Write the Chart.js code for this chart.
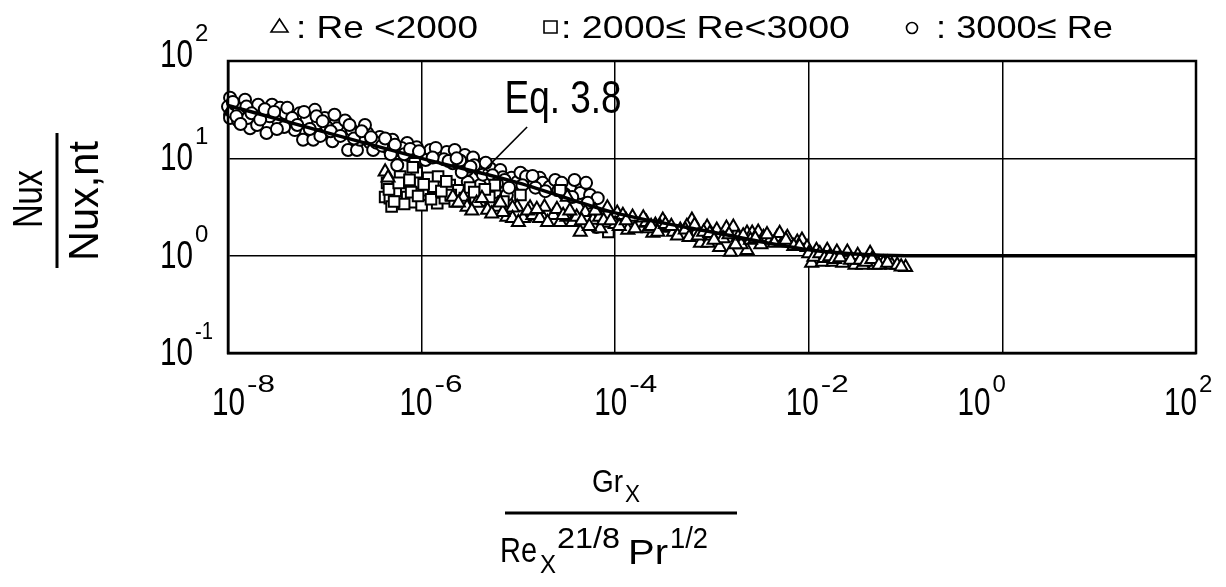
<!DOCTYPE html>
<html>
<head>
<meta charset="utf-8">
<script src="https://cdn.jsdelivr.net/npm/chart.js@4.4.1/dist/chart.umd.min.js"></script>
<style>
  html, body { margin: 0; padding: 0; background: #fff; }
  #wrap { width: 1226px; height: 587px; }
</style>
</head>
<body>
<div id="wrap"><canvas id="chart" width="1226" height="587"></canvas></div>
<script>
// legend text and axis ticks
const seriesLabels = ["Re <2000", "2000\u2264 Re<3000", "3000\u2264 Re"];
const xTicks = [1e-8, 1e-6, 1e-4, 1e-2, 1, 100];
const yTicks = [0.1, 1, 10, 100];

// Eq. 3.8 curve
const eqX = [1e-8, 1e-7, 1e-6, 1e-5, 1e-4, 1e-3, 1e-2, 3e-2, 1e-1, 1, 100];
const eqY = [35, 18.6, 10, 5.6, 2.75, 1.75, 1.15, 1.04, 1.0, 1.0, 1.0];

// o : 3000 <= Re
const circleX = [1.05e-8, 1.0e-8, 1.05e-8, 1.05e-8, 1.1e-8, 1.18e-8, 1.27e-8, 1.43e-8, 1.69e-8, 1.9e-8,
  2.25e-8, 2.5e-8, 2.85e-8, 3.45e-8, 3.3e-8, 4.37e-8, 5.5e-8, 5.96e-8, 7.6e-8, 7.9e-8,
  8.5e-8, 1.05e-7, 1.34e-7, 1.62e-7, 1.7e-7, 1.9e-7, 1.74e-7, 2.15e-7, 2.75e-7, 2.95e-7,
  3.16e-7, 3.7e-7, 4.4e-7, 5.0e-7, 5.7e-7, 7.1e-7, 7.2e-7, 8.9e-7, 1.0e-6, 1.23e-6,
  1.55e-6, 1.82e-6, 2.2e-6, 2.8e-6, 2.1e-6, 2.95e-6, 4.0e-6, 5.1e-6, 6.5e-6, 6.9e-6,
  8.5e-6, 9.7e-6, 5.6e-7, 8.9e-7, 3.0e-6, 1.05e-5, 7.2e-6, 1.32e-5, 1.66e-5, 1.78e-5,
  2.1e-5, 2.6e-5, 3.4e-5, 4.5e-5, 4.35e-5, 5.5e-5, 6.6e-5, 6.4e-5, 7.6e-6, 4.0e-6,
  5.7e-6, 1.5e-8, 2.05e-8, 3.9e-8, 4.9e-8, 1.0e-7, 1.26e-7, 2.3e-7, 1.3e-8, 1.6e-8,
  2.0e-8, 2.7e-8, 3.8e-8, 6.5e-8, 9.0e-8, 1.2e-7, 2.0e-7, 2.6e-7, 3.4e-7, 4.8e-7,
  6.2e-7, 8.0e-7, 1.1e-6, 1.4e-6, 1.7e-6, 2.5e-6, 3.4e-6, 3.5e-6, 4.6e-6, 1.2e-5,
  1.5e-5, 2.4e-5, 3.0e-5, 3.8e-5, 5.0e-5, 5.2e-5, 1.12e-8, 1.22e-8, 1.35e-8, 1.55e-8,
  1.75e-8, 2.15e-8, 2.4e-8, 3.0e-8, 3.2e-8, 4.1e-8, 4.6e-8, 5.2e-8, 6.1e-8, 7.0e-8,
  8.2e-8, 9.5e-8, 1.15e-7, 1.45e-7, 1.8e-7, 2.4e-7, 3.0e-7, 3.9e-7, 4.2e-7, 5.3e-7,
  6.6e-7, 7.6e-7, 9.4e-7, 1.3e-6, 1.9e-6, 2.3e-6, 2.6e-6, 3.2e-6, 4.3e-6, 5.4e-6,
  6.0e-6, 8.0e-6, 1.1e-5, 1.4e-5, 1.9e-5, 2.8e-5, 3.6e-5];
const circleY = [42, 34, 28, 26, 30, 36, 24.5, 31.6, 20.4, 28,
  30, 18.2, 35.5, 33, 24.5, 23, 29, 15.5, 15.5, 31.5,
  23, 21, 20.4, 24.5, 18.6, 19.5, 12.2, 12.2, 18.2, 14.4,
  12.2, 16.6, 13, 15.5, 12.2, 14.4, 10.8, 13, 10.8, 12.2,
  10.8, 11.6, 12.2, 10.8, 8.9, 7.6, 7.6, 7.9, 7.6, 6.4,
  6.3, 5.7, 8.5, 6.0, 5.7, 7.1, 6.0, 5.7, 6.3, 5.6,
  5.1, 4.7, 5.0, 5.3, 4.4, 4.2, 3.9, 1.97, 4.2, 5.3,
  4.5, 40, 35.5, 29, 19.5, 26, 28, 15.5, 32, 26,
  22, 27, 21, 25, 17, 15, 16, 22, 14.5, 11,
  12.8, 11.5, 9.6, 12.8, 9.8, 9.5, 10.2, 8.5, 9.0, 6.5,
  5.0, 6.0, 4.3, 6.0, 5.6, 3.5, 38, 27, 22.5, 34,
  29, 25, 32, 30, 20, 33, 26, 22, 30, 20,
  27, 24, 19, 17, 22, 19, 16.5, 13.5, 16, 13.8,
  11, 12.5, 11.8, 10.2, 9.4, 10, 7.2, 8.2, 6.8, 6.7,
  5.5, 5.0, 5.3, 6.6, 4.6, 5.6, 4.0];

// square : 2000 <= Re < 3000
const squareX = [4.4e-7, 4.2e-7, 4.7e-7, 4.9e-7, 6.0e-7, 6.3e-7, 7.1e-7, 8.1e-7, 8.5e-7, 8.9e-7,
  9.6e-7, 1.15e-6, 1.17e-6, 1.32e-6, 1.45e-6, 1.48e-6, 1.74e-6, 1.95e-6, 2.4e-6, 3.16e-6,
  4.0e-6, 5.7e-6, 1.05e-5, 2.7e-5, 8.5e-5, 1.32e-6, 8.1e-7, 5.4e-7, 6.6e-7, 1.0e-6,
  2.0e-6, 2.8e-6, 3.5e-6, 5.0e-6, 7.0e-6, 4.6e-7, 5.2e-7, 5.8e-7, 7.5e-7, 7.8e-7,
  9.2e-7, 1.05e-6, 1.25e-6, 1.6e-6, 1.8e-6, 2.2e-6, 4.5e-6];
const squareY = [5.6, 4.0, 3.9, 3.2, 6.5, 5.1, 4.0, 3.55, 8.9, 7.1,
  5.6, 4.7, 6.3, 4.4, 3.47, 6.5, 3.9, 5.3, 4.7, 5.0,
  3.7, 5.3, 4.2, 4.7, 1.75, 5.1, 8.1, 4.6, 3.4, 3.3,
  4.2, 3.9, 4.5, 4.0, 3.6, 4.8, 3.6, 5.6, 6.0, 4.5,
  4.1, 5.4, 3.8, 4.6, 5.8, 3.6, 4.8];

// triangle : Re < 2000
const triangleX = [4.2e-7, 4.5e-7, 2.1e-6, 2.7e-6, 2.95e-6, 3.7e-6, 4.8e-6, 6.0e-6, 7.6e-6, 9.7e-6,
  1.17e-5, 1.78e-5, 8.7e-6, 8.7e-6, 1.12e-5, 1.41e-5, 1.66e-5, 1.86e-5, 2.3e-5, 2.7e-5,
  3.16e-5, 3.2e-5, 3.6e-5, 4.35e-5, 4.9e-5, 5.9e-5, 6.9e-5, 8.3e-5, 1.05e-4, 1.2e-4,
  1.35e-4, 1.51e-4, 1.82e-4, 2.1e-4, 2.45e-4, 2.6e-4, 3.1e-4, 3.45e-4, 4.0e-4, 4.7e-4,
  5.0e-4, 6.2e-4, 6.9e-4, 7.6e-4, 8.9e-4, 9.1e-4, 1.12e-3, 1.2e-3, 1.41e-3, 1.55e-3,
  1.66e-3, 1.86e-3, 2.3e-3, 2.3e-3, 2.6e-3, 3.0e-3, 3.4e-3, 4.0e-3, 4.7e-3, 5.4e-3,
  6.4e-3, 7.6e-3, 8.5e-3, 9.6e-3, 1.07e-2, 1.2e-2, 1.38e-2, 1.55e-2, 1.78e-2, 1.95e-2,
  2.24e-2, 2.5e-2, 3.0e-2, 3.2e-2, 3.6e-2, 4.3e-2, 4.8e-2, 5.9e-2, 7.2e-2, 1.0e-1,
  6.9e-6, 1.32e-5, 2.2e-4, 2.9e-4, 5.5e-4, 1.0e-3, 1.3e-3, 2.0e-3, 3.2e-3, 5.0e-3,
  6.0e-3, 1.0e-2, 4.0e-5, 1.0e-4, 7.0e-5, 2.4e-6, 3.3e-6, 4.2e-6, 5.3e-6, 6.5e-6,
  1.0e-5, 1.25e-5, 1.55e-5, 2.0e-5, 2.5e-5, 2.9e-5, 3.4e-5, 4.5e-5, 5.4e-5, 6.2e-5,
  7.6e-5, 9.0e-5, 1.1e-4, 1.3e-4, 1.6e-4, 1.95e-4, 2.35e-4, 2.75e-4, 3.3e-4, 3.8e-4,
  4.4e-4, 5.3e-4, 5.8e-4, 6.6e-4, 7.2e-4, 8.2e-4, 9.5e-4, 1.05e-3, 1.5e-3, 1.75e-3,
  2.1e-3, 2.5e-3, 2.8e-3, 3.7e-3, 4.4e-3, 5.8e-3, 7.0e-3, 8.0e-3, 1.13e-2, 1.3e-2,
  1.45e-2, 1.65e-2, 1.85e-2, 2.1e-2, 2.7e-2, 3.4e-2, 3.9e-2, 4.5e-2, 5.3e-2, 6.5e-2,
  8.2e-2, 9.0e-2];
const triangleY = [7.3, 6.3, 4.0, 4.0, 3.16, 3.47, 2.95, 3.16, 2.5, 3.16,
  2.5, 2.5, 3.1, 2.43, 2.43, 2.6, 2.43, 3.16, 2.6, 2.2,
  2.5, 4.0, 2.2, 1.75, 2.8, 2.32, 2.5, 3.1, 2.74, 2.6,
  1.83, 2.5, 2.16, 2.2, 1.71, 2.06, 2.32, 1.92, 1.75, 1.83,
  1.63, 2.32, 1.75, 1.35, 1.97, 1.35, 1.83, 1.22, 1.92, 1.09,
  1.97, 1.55, 1.14, 1.71, 1.71, 1.75, 1.55, 1.45, 1.55, 1.38,
  1.35, 1.38, 1.45, 1.22, 0.84, 1.14, 0.86, 1.14, 0.86, 1.09,
  0.84, 1.09, 0.80, 1.01, 0.80, 1.06, 0.80, 0.84, 0.80, 0.76,
  2.8, 3.1, 1.9, 2.0, 2.0, 1.6, 1.5, 1.3, 1.3, 1.7,
  1.55, 1.05, 2.5, 2.1, 1.9, 3.5, 2.9, 3.9, 2.7, 3.5,
  2.2, 2.9, 3.0, 2.2, 3.0, 2.6, 2.9, 2.3, 2.0, 2.9,
  2.3, 2.3, 2.0, 2.3, 1.9, 2.45, 2.0, 1.75, 2.1, 2.0,
  1.6, 1.85, 1.55, 2.05, 1.6, 1.75, 1.7, 1.45, 1.65, 1.3,
  1.6, 1.45, 1.5, 1.65, 1.35, 1.45, 1.25, 1.25, 0.97, 1.05,
  0.94, 0.98, 0.92, 0.96, 0.9, 0.9, 0.86, 0.92, 0.8, 0.84,
  0.8, 0.77];

const toPoints = (xs, ys) => xs.map((x, i) => ({ x: x, y: ys[i] }));

const FONT = '"Liberation Sans", Arial, sans-serif';

// draw text, squeezed or stretched to a given width
function putText(c, txt, x, y, size, w, align) {
  c.save();
  c.font = size + "px " + FONT;
  c.fillStyle = "#000";
  c.textBaseline = "alphabetic";
  const m = c.measureText(txt).width;
  const sx = w ? w / m : 1;
  c.translate(x, y);
  c.scale(sx, 1);
  c.textAlign = align || "left";
  c.fillText(txt, 0, 0);
  c.restore();
}

function putTextUp(c, txt, x, y, size, w) {
  c.save();
  c.translate(x, y);
  c.rotate(-Math.PI / 2);
  putText(c, txt, 0, 0, size, w, "center");
  c.restore();
}

// label shifts, hand-set like the scanned figure
const xLabelShift = [17, 11, 12, 10, -12, 1];

const figurePlugin = {
  id: "figure",
  afterDraw(chart) {
    const c = chart.ctx;
    const a = chart.chartArea;
    const xs = chart.scales.x;
    const ys = chart.scales.y;

    c.save();
    c.strokeStyle = "#000";
    c.lineWidth = 2.5;
    c.strokeRect(a.left, a.top, a.right - a.left, a.bottom - a.top);

    // y tick labels 10^n
    yTicks.forEach((v) => {
      const py = ys.getPixelForValue(v) + (v === 100 ? -6 : 0);
      const e = Math.round(Math.log10(v));
      putText(c, "10", 193, py + 12, 38, 33, "right");
      putText(c, String(e), 195, py - 14, 24, e < 0 ? 18 : 0);
    });

    // x tick labels 10^n
    xTicks.forEach((v, i) => {
      const px = xs.getPixelForValue(v) + xLabelShift[i];
      const e = Math.round(Math.log10(v));
      putText(c, "10", px, 415, 38, 33, "right");
      putText(c, String(e), px + 2, 392, 24, e < 0 ? 28 : 0);
    });

    // legend
    c.lineWidth = 1.6;
    c.fillStyle = "#fff";
    c.beginPath();
    c.moveTo(279.5, 19);
    c.lineTo(271, 32);
    c.lineTo(288, 32);
    c.closePath();
    c.fill();
    c.stroke();
    c.beginPath();
    c.rect(544, 21, 13, 12);
    c.fill();
    c.stroke();
    c.beginPath();
    c.arc(912, 28, 5.5, 0, Math.PI * 2);
    c.fill();
    c.stroke();
    putText(c, ": " + seriesLabels[0], 296, 38, 32, 182);
    putText(c, ": " + seriesLabels[1], 561, 38, 32, 289);
    putText(c, ": " + seriesLabels[2], 936, 38, 32, 177);

    // Eq. 3.8 note and its pointer
    c.lineWidth = 1.6;
    c.beginPath();
    c.moveTo(xs.getPixelForValue(1.23e-5), ys.getPixelForValue(21));
    c.lineTo(xs.getPixelForValue(4.3e-6), ys.getPixelForValue(7.3));
    c.stroke();
    putText(c, "Eq. 3.8", xs.getPixelForValue(7.2e-6), ys.getPixelForValue(29), 46, 117);

    // y axis title: Nux / Nux,nt
    putTextUp(c, "Nux", 42, 199, 42, 58);
    putTextUp(c, "Nux,nt", 98, 201, 42, 120);
    c.lineWidth = 3;
    c.beginPath();
    c.moveTo(57, 133);
    c.lineTo(57, 268);
    c.stroke();

    // x axis title: Gr_x / Re_x^(21/8) Pr^(1/2)
    putText(c, "Gr", 592, 492, 31, 31);
    putText(c, "X", 625, 502, 24, 15);
    c.beginPath();
    c.moveTo(505, 513);
    c.lineTo(737, 513);
    c.stroke();
    putText(c, "Re", 500, 562, 35, 37);
    putText(c, "X", 540, 573, 26, 16);
    putText(c, "21/8", 557, 548, 29, 63);
    putText(c, "Pr", 628, 564, 35, 40);
    putText(c, "1/2", 670, 548, 29, 38);

    c.restore();
  }
};

const markerStyle = {
  backgroundColor: "#fff",
  borderColor: "#000",
  borderWidth: 2,
  showLine: false,
  clip: false
};

const ctx = document.querySelector("#chart").getContext("2d");

const figure = new Chart(ctx, {
  type: "scatter",
  data: {
    datasets: [
      {
        label: "Eq. 3.8",
        type: "line",
        data: toPoints(eqX, eqY),
        borderColor: "#000",
        borderWidth: 3.5,
        pointRadius: 0,
        fill: false,
        cubicInterpolationMode: "monotone",
        order: 0
      },
      Object.assign({
        label: seriesLabels[0],
        data: toPoints(triangleX, triangleY),
        pointStyle: "triangle",
        pointRadius: 7.5,
        order: 1
      }, markerStyle),
      Object.assign({
        label: seriesLabels[1],
        data: toPoints(squareX, squareY),
        pointStyle: "rect",
        pointRadius: 7.5,
        order: 2
      }, markerStyle),
      Object.assign({
        label: seriesLabels[2],
        data: toPoints(circleX, circleY),
        pointStyle: "circle",
        pointRadius: 6,
        order: 3
      }, markerStyle)
    ]
  },
  options: {
    responsive: false,
    animation: false,
    events: [],
    layout: { padding: { left: 228, right: 30, top: 61, bottom: 234 } },
    plugins: {
      legend: { display: false },
      tooltip: { enabled: false }
    },
    scales: {
      x: {
        type: "logarithmic",
        min: 1e-8,
        max: 100,
        afterBuildTicks: (axis) => {
          axis.ticks = xTicks.map((v) => ({ value: v }));
        },
        ticks: { display: false },
        grid: { color: "#000", lineWidth: 1.5, drawTicks: false },
        border: { display: true, color: "#000", width: 2.5 }
      },
      y: {
        type: "logarithmic",
        min: 0.1,
        max: 100,
        afterBuildTicks: (axis) => {
          axis.ticks = yTicks.map((v) => ({ value: v }));
        },
        ticks: { display: false },
        grid: { color: "#000", lineWidth: 1.5, drawTicks: false },
        border: { display: true, color: "#000", width: 2.5 }
      }
    }
  },
  plugins: [figurePlugin]
});
</script>
</body>
</html>
